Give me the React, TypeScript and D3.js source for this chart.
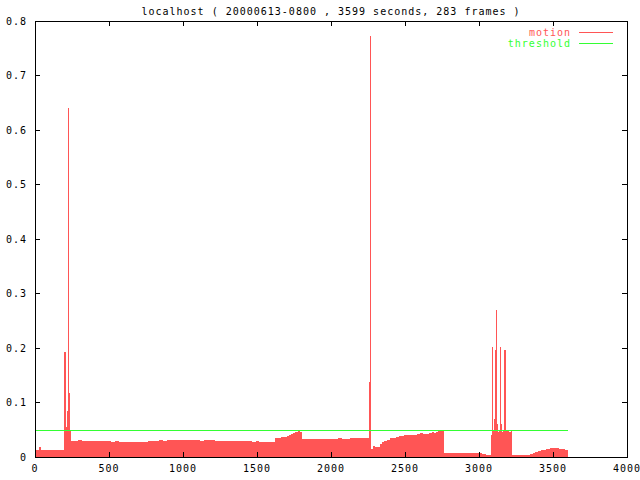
import React from "react";
import * as d3 from "d3";

const title = "localhost ( 20000613-0800 , 3599 seconds, 283 frames )";
const xTicks = [0, 500, 1000, 1500, 2000, 2500, 3000, 3500, 4000];
const yTicks = [0, 0.1, 0.2, 0.3, 0.4, 0.5, 0.6, 0.7, 0.8];
const yTickLabels = ["0", "0.1", "0.2", "0.3", "0.4", "0.5", "0.6", "0.7", "0.8"];
const endTime = 3599;
const threshold = 0.049;

const motionTimes = [
  0, 25, 38, 198, 203, 208, 214, 219, 224, 229, 234, 240, 265, 290, 315, 340, 365, 390, 415, 440,
  465, 490, 515, 540, 565, 590, 615, 640, 665, 690, 715, 740, 765, 790, 815, 840, 865, 890, 915,
  940, 965, 990, 1015, 1040, 1065, 1090, 1115, 1140, 1165, 1190, 1215, 1240, 1265, 1290, 1315,
  1340, 1365, 1390, 1415, 1440, 1465, 1490, 1515, 1540, 1565, 1590, 1620, 1640, 1660, 1680, 1700,
  1715, 1730, 1745, 1760, 1770, 1780, 1790, 1802, 1825, 1850, 1875, 1900, 1925, 1950, 1975, 2000,
  2025, 2050, 2075, 2100, 2125, 2150, 2175, 2200, 2220, 2240, 2256, 2263, 2270, 2283, 2296, 2310,
  2330, 2345, 2360, 2380, 2399, 2420, 2440, 2460, 2480, 2495, 2511, 2535, 2560, 2580, 2601, 2620,
  2640, 2660, 2680, 2695, 2710, 2725, 2737, 2752, 2766, 2800, 2825, 2850, 2875, 2900, 2925, 2950,
  2970, 2990, 3018, 3050, 3081, 3086, 3092, 3100, 3108, 3114, 3120, 3128, 3136, 3142, 3148, 3156,
  3164, 3172, 3177, 3183, 3200, 3215, 3225, 3345, 3365, 3380, 3400, 3420, 3435, 3450, 3465, 3480,
  3500, 3520, 3540, 3560, 3580, 3593,
];
const motionValues = [
  0.013, 0.019, 0.013, 0.192, 0.118, 0.055, 0.07, 0.084, 0.64, 0.118, 0.05, 0.03, 0.0295, 0.0305,
  0.0295, 0.029, 0.0298, 0.03, 0.029, 0.0295, 0.0288, 0.029, 0.0282, 0.0285, 0.028, 0.028, 0.0275,
  0.0275, 0.0278, 0.0275, 0.028, 0.028, 0.0285, 0.029, 0.0298, 0.0305, 0.03, 0.0305, 0.031, 0.031,
  0.0305, 0.031, 0.0312, 0.0305, 0.0308, 0.031, 0.0302, 0.0305, 0.031, 0.0305, 0.0298, 0.03,
  0.0302, 0.03, 0.0293, 0.0295, 0.029, 0.029, 0.0288, 0.0285, 0.0282, 0.0285, 0.028, 0.028, 0.0275,
  0.027, 0.034, 0.035, 0.036, 0.0375, 0.039, 0.0405, 0.042, 0.0435, 0.045, 0.0455, 0.047, 0.046,
  0.033, 0.0325, 0.0325, 0.033, 0.033, 0.0322, 0.0325, 0.0332, 0.033, 0.0335, 0.034, 0.0338,
  0.0335, 0.034, 0.034, 0.0345, 0.035, 0.0348, 0.034, 0.137, 0.772, 0.014, 0.021, 0.018, 0.019,
  0.024, 0.027, 0.03, 0.032, 0.034, 0.0355, 0.037, 0.038, 0.039, 0.0395, 0.04, 0.0405, 0.041, 0.042,
  0.0435, 0.0425, 0.042, 0.0435, 0.045, 0.044, 0.046, 0.047, 0.048, 0.0475, 0.008, 0.0075, 0.0078,
  0.008, 0.0078, 0.007, 0.0075, 0.008, 0.0072, 0.007, 0.005, 0.004, 0.04, 0.201, 0.05, 0.07, 0.196,
  0.27, 0.06, 0.045, 0.05, 0.201, 0.06, 0.045, 0.05, 0.196, 0.0997, 0.048, 0.045, 0.048, 0.0037,
  0.006, 0.0075, 0.009, 0.0105, 0.012, 0.013, 0.014, 0.015, 0.016, 0.0162, 0.016, 0.0152, 0.014,
  0.013, 0.012,
];

const W = 640, H = 480;
const L = 35, R = 627, T = 21, B = 457;
const font = "'DejaVu Sans Mono', monospace";

export default function App() {
  const x = d3.scaleLinear().domain([0, 4000]).range([L, R]);
  const y = d3.scaleLinear().domain([0, 0.8]).range([B, T]);
  const red = "#ff5555";
  const green = "#33ff33";
  const tickLen = 5;

  const bars = motionTimes.map((t, i) => {
    const next = i < motionTimes.length - 1 ? motionTimes[i + 1] : endTime;
    const x0 = x(t);
    const w = Math.max(1.2, x(next) - x0);
    const yv = y(motionValues[i]);
    return <rect key={i} x={x0} y={yv} width={w} height={B - yv} fill={red} />;
  });

  const thrLine = d3.line<[number, number]>().x((d) => x(d[0])).y((d) => y(d[1]));

  return (
    <svg width={W} height={H} style={{ position: "absolute", left: 0, top: 0, background: "#fff" }}
      fontFamily={font} fontSize={10} letterSpacing={1}>
      <rect x={0} y={0} width={W} height={H} fill="#fff" />
      <g shapeRendering="crispEdges">{bars}</g>
      <path d={thrLine([[0, threshold], [endTime, threshold]]) || ""} stroke={green} strokeWidth={1} fill="none" shapeRendering="crispEdges" />
      <g stroke="#000" strokeWidth={1} shapeRendering="crispEdges">
        {yTicks.map((v, i) => (
          <g key={"yt" + i}>
            <line x1={L} x2={L + tickLen} y1={y(v)} y2={y(v)} />
            <line x1={R} x2={R - tickLen} y1={y(v)} y2={y(v)} />
          </g>
        ))}
        {xTicks.map((v, i) => (
          <g key={"xt" + i}>
            <line x1={x(v)} x2={x(v)} y1={B} y2={B - tickLen} />
            <line x1={x(v)} x2={x(v)} y1={T} y2={T + tickLen} />
          </g>
        ))}
        <rect x={L} y={T} width={R - L} height={B - T} fill="none" />
      </g>
      {yTicks.map((v, i) => (
        <text key={"yl" + i} x={L - 8} y={y(v)} dy="0.35em" textAnchor="end" fill="#000">
          {yTickLabels[i]}
        </text>
      ))}
      {xTicks.map((v, i) => (
        <text key={"xl" + i} x={x(v)} y={B + 11} dy="0.35em" textAnchor="middle" fill="#000">
          {v}
        </text>
      ))}
      <text x={(L + R) / 2} y={11} dy="0.35em" textAnchor="middle" fill="#000">{title}</text>
      <text x={571} y={32} dy="0.35em" textAnchor="end" fill={red}>motion</text>
      <line x1={579} x2={613} y1={32} y2={32} stroke={red} shapeRendering="crispEdges" />
      <text x={571} y={43} dy="0.35em" textAnchor="end" fill={green}>threshold</text>
      <line x1={579} x2={613} y1={43} y2={43} stroke={green} shapeRendering="crispEdges" />
    </svg>
  );
}
